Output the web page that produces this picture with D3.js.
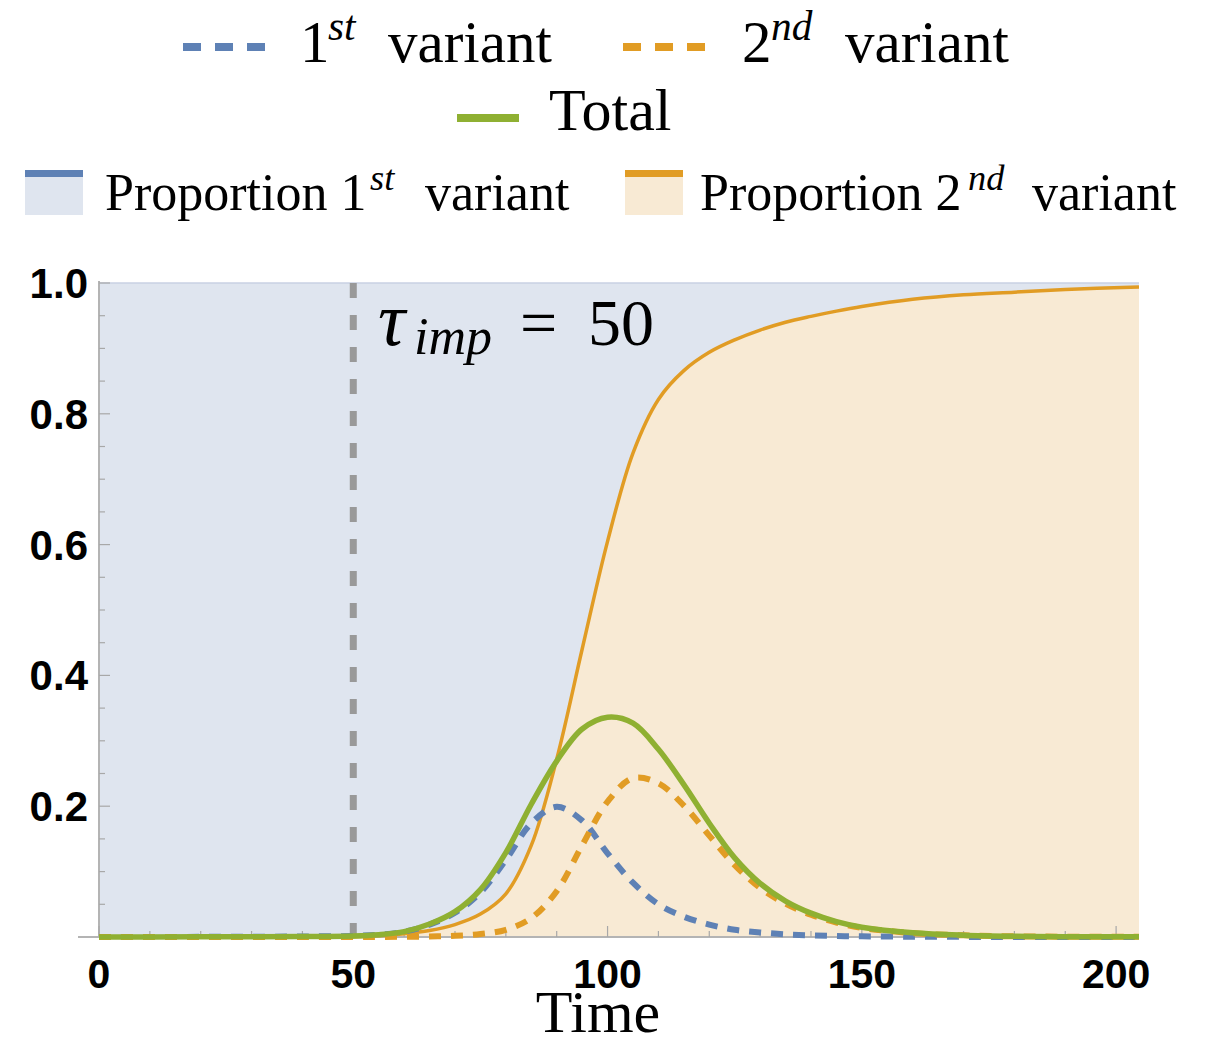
<!DOCTYPE html>
<html><head><meta charset="utf-8">
<script src="https://cdn.jsdelivr.net/npm/d3@7"></script>
<style>body{margin:0;background:#fff}svg{display:block}</style>
</head><body>
<svg id="c" width="1209" height="1046"></svg>
<script>
// ---- data ----
const time    = [0,10,20,30,40,50,55,60,65,70,75,80,85,90,95,100,105,110,115,120,125,130,135,140,145,150,160,170,180,190,204.5];
const prop2   = [0,0,0,0,0,0,0.002,0.005,0.01,0.019,0.035,0.066,0.14,0.272,0.44,0.605,0.74,0.822,0.866,0.894,0.913,0.928,0.94,0.949,0.957,0.964,0.975,0.982,0.986,0.99,0.994];
const first   = [0,0.0001,0.0002,0.0004,0.0008,0.0017,0.0035,0.008,0.019,0.037,0.068,0.118,0.174,0.199,0.178,0.128,0.083,0.05,0.031,0.019,0.011,0.007,0.004,0.0025,0.0015,0.001,0.0004,0.0002,0.0001,0,0];
const second  = [0,0,0,0,0,0,0.0001,0.0003,0.0008,0.0018,0.0045,0.011,0.029,0.07,0.14,0.207,0.243,0.235,0.201,0.155,0.11,0.075,0.051,0.034,0.022,0.014,0.006,0.0025,0.001,0.0005,0.0002];
const total   = [0,0.0001,0.0002,0.0004,0.0008,0.0017,0.0036,0.0083,0.0198,0.0388,0.0725,0.129,0.203,0.269,0.318,0.336,0.327,0.287,0.233,0.174,0.121,0.082,0.055,0.0365,0.0235,0.015,0.0064,0.0027,0.0011,0.0005,0.0002];
const xTicks  = [0,50,100,150,200];
const yTicks  = [0.2,0.4,0.6,0.8,1.0];
const yTickLabels = ["0.2","0.4","0.6","0.8","1.0"];
const tauImp  = 50;

const C = {blue:"#5e81b5", orange:"#e19c24", green:"#8fb032",
           blueFill:"#dfe5ef", orangeFill:"#f8ead4", axis:"#b4b4b4", tick:"#a8a8a8", vline:"#999999"};

const svg = d3.select("#c");
const x = d3.scaleLinear().domain([0,204.5]).range([99,1139]);
const y = d3.scaleLinear().domain([0,1]).range([937,283]);
const pts = time.map((t,i)=>({t,p:prop2[i],a:first[i],b:second[i],s:total[i]}));
const curve = d3.curveCatmullRom.alpha(0.5);

// fills
svg.append("path").datum(pts).attr("fill",C.blueFill)
  .attr("d", d3.area().curve(curve).x(d=>x(d.t)).y0(d=>y(d.p)).y1(y(1)));
svg.append("path").datum(pts).attr("fill",C.orangeFill)
  .attr("d", d3.area().curve(curve).x(d=>x(d.t)).y0(y(0)).y1(d=>y(d.p)));
// top (stacked first-variant proportion = 1)
svg.append("line").attr("x1",x(0)).attr("x2",x(204.5)).attr("y1",y(1)).attr("y2",y(1))
  .attr("stroke","#c9d0e3").attr("stroke-width",1.5);

// axes
const g = svg.append("g");
g.append("line").attr("x1",78).attr("x2",x(204.5)).attr("y1",y(0)).attr("y2",y(0)).attr("stroke",C.axis).attr("stroke-width",2);
g.append("line").attr("x1",x(0)).attr("x2",x(0)).attr("y1",y(0)).attr("y2",y(1)-2).attr("stroke",C.axis).attr("stroke-width",2);
d3.range(0,1.0001,0.05).forEach(v=>{
  const major = Math.abs(Math.round(v*5)-v*5)<1e-6;
  g.append("line").attr("x1",x(0)).attr("x2",x(0)+(major?11:6)).attr("y1",y(v)).attr("y2",y(v))
   .attr("stroke",C.tick).attr("stroke-width",1.2);
});
d3.range(0,201,10).forEach(t=>{
  const major = t%50===0;
  g.append("line").attr("x1",x(t)).attr("x2",x(t)).attr("y1",y(0)).attr("y2",y(0)-(major?11:6))
   .attr("stroke",C.tick).attr("stroke-width",1.2);
});

// tick labels
const tickFont = "'Liberation Sans', Arial, sans-serif";
svg.selectAll(".yl").data(yTicks).enter().append("text")
  .attr("x",88).attr("y",d=>y(d)+15).attr("text-anchor","end")
  .attr("font-family",tickFont).attr("font-weight","bold").attr("font-size",42)
  .text((d,i)=>yTickLabels[i]);
svg.selectAll(".xl").data(xTicks).enter().append("text")
  .attr("x",d=>x(d)).attr("y",988).attr("text-anchor","middle")
  .attr("font-family",tickFont).attr("font-weight","bold").attr("font-size",41)
  .text(d=>d);

// vertical dashed import line
svg.append("line").attr("x1",x(tauImp)).attr("x2",x(tauImp)).attr("y1",y(1)).attr("y2",y(0))
  .attr("stroke",C.vline).attr("stroke-width",7).attr("stroke-dasharray","15,17");

// curves
const line = key => d3.line().curve(curve).x(d=>x(d.t)).y(d=>y(d[key]));
svg.append("path").datum(pts).attr("fill","none").attr("stroke",C.orange).attr("stroke-width",3.5).attr("d",line("p"));
svg.append("path").datum(pts).attr("fill","none").attr("stroke",C.blue).attr("stroke-width",6).attr("stroke-dasharray","12,10").attr("d",line("a"));
svg.append("path").datum(pts).attr("fill","none").attr("stroke",C.orange).attr("stroke-width",6).attr("stroke-dasharray","12,10").attr("d",line("b"));
svg.append("path").datum(pts).attr("fill","none").attr("stroke",C.green).attr("stroke-width",5.5).attr("d",line("s"));

// tau label
const serif = "'Liberation Serif','Times New Roman',serif";
const tau = svg.append("text").attr("font-family",serif).attr("font-size",66).attr("y",345);
tau.append("tspan").attr("x",378).attr("font-style","italic").attr("font-size",76).text("τ");
tau.append("tspan").attr("x",414).attr("y",354).attr("font-style","italic").attr("font-size",52).text("imp");
tau.append("tspan").attr("x",520).attr("y",345).text("=");
tau.append("tspan").attr("x",588).text("50");

// legend
function sup(xb, base, fs, main, supTxt, xs, rest, xr){
  const t = svg.append("text").attr("font-family",serif).attr("font-size",fs).attr("y",base);
  t.append("tspan").attr("x",xb).text(main);
  t.append("tspan").attr("x",xs).attr("y",base-fs*0.38).attr("font-style","italic").attr("font-size",fs*0.7).text(supTxt);
  t.append("tspan").attr("x",xr).attr("y",base).text(rest);
}
// row 1
svg.append("line").attr("x1",183).attr("x2",266).attr("y1",47).attr("y2",47).attr("stroke",C.blue).attr("stroke-width",8).attr("stroke-dasharray","18,14");
sup(300,62,59,"1","st",328,"variant",388);
svg.append("line").attr("x1",623).attr("x2",706).attr("y1",47).attr("y2",47).attr("stroke",C.orange).attr("stroke-width",8).attr("stroke-dasharray","18,14");
sup(742,62,59,"2","nd",771,"variant",845);
// row 2
svg.append("line").attr("x1",457).attr("x2",519).attr("y1",118).attr("y2",118).attr("stroke",C.green).attr("stroke-width",8);
svg.append("text").attr("font-family",serif).attr("font-size",60).attr("x",549).attr("y",130).text("Total");
// row 3
function swatch(x0, col, fill){
  svg.append("rect").attr("x",x0).attr("y",170).attr("width",58).attr("height",45).attr("fill",fill);
  svg.append("rect").attr("x",x0).attr("y",170).attr("width",58).attr("height",7).attr("fill",col);
}
swatch(25,C.blue,C.blueFill);
sup(105,210,52,"Proportion 1","st",370,"variant",425);
swatch(625,C.orange,C.orangeFill);
sup(700,210,52,"Proportion 2","nd",968,"variant",1032);

// axis title
svg.append("text").attr("font-family",serif).attr("font-size",60).attr("x",598).attr("y",1032)
  .attr("text-anchor","middle").text("Time");
</script>
</body></html>
